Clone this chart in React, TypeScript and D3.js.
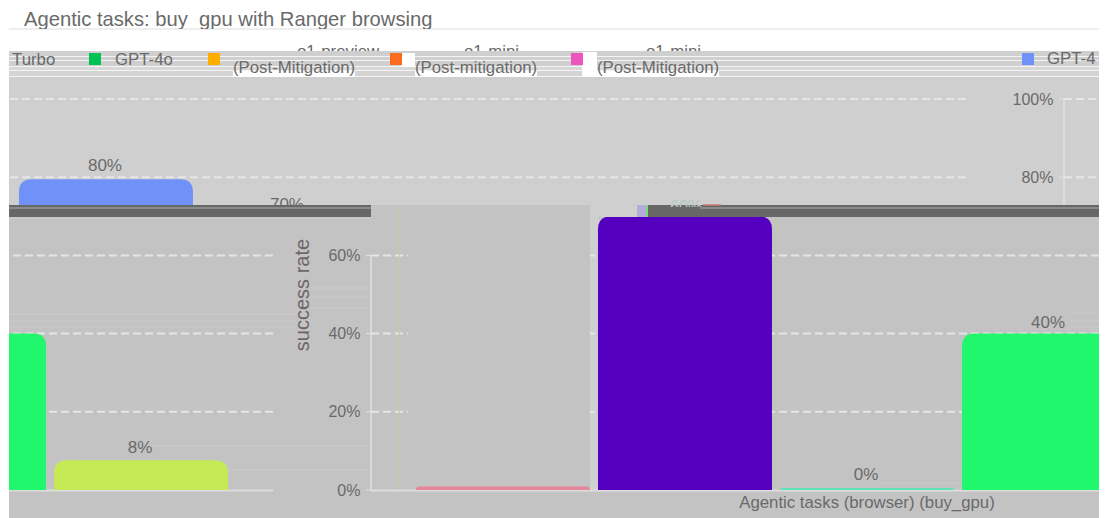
import React from "react";
import * as d3 from "d3";

// ---- data ----
const categories = ["GPT-4", "o1-preview", "o1-mini", "GPT-4o", "GPT-4-Turbo"];
const upperValues = [79.5, 70, 0.4, 40, 7.6];
const lowerValues = [0.9, 70, 0.5, 40, 7.6];
const upperLabels = ["80%", "70%", "0%", "40%", "8%"];
const lowerLabels = ["", "70%", "0%", "40%", "8%"];
const upperColors = ["#7091f8", "#5500c0", "#5fe3b4", "#20f76c", "#c5ea55"];
const lowerColors = ["#e8859c", "#5500c0", "#5fe3b4", "#20f76c", "#c5ea55"];
const yTicks = [0, 20, 40, 60, 80, 100];
const legendNames = ["Turbo", "GPT-4o", "(Post-Mitigation)", "(Post-mitigation)", "(Post-Mitigation)", "GPT-4"];
const legendColors = ["", "#00c254", "#ffae00", "#f96b1d", "#ee55bb", "#7091f8"];
const legendFragments = ["o1-preview", "o1-mini", "o1-mini"];

// ---- layout ----
const W = 1105, H = 518;
const L = 9, R = 1099, WRAP = R - L;
const PLOT = 992;
const FONT = "'Liberation Sans', Arial, sans-serif";
const TEXT = "#6a6a6a";

const x = d3.scaleBand<string>().domain(categories).range([0, PLOT]).paddingInner(0.044).paddingOuter(0.247);
const y = d3.scaleLinear().domain([0, 100]).range([490, 99]);

function barPath(cx: number, w: number, v: number) {
  const top = y(v), base = y(0);
  const r = Math.min(13, base - top, w / 2);
  const p = d3.path();
  p.moveTo(cx, base);
  p.lineTo(cx, top + r);
  p.quadraticCurveTo(cx, top, cx + r, top);
  p.lineTo(cx + w - r, top);
  p.quadraticCurveTo(cx + w, top, cx + w, top + r);
  p.lineTo(cx + w, base);
  p.closePath();
  return p.toString();
}

function Panel({ values, labels, colors, bg, maskFirst, axisTop }: any) {
  const bw = x.bandwidth();
  return (
    <g>
      {yTicks.filter((t) => t > 0).map((t) => (
        <line key={t} x1={0} x2={PLOT} y1={y(t)} y2={y(t)} stroke="#e6e6e6" strokeWidth={2} strokeDasharray="8 4" />
      ))}
      {maskFirst && (
        <rect x={x(categories[0])! - 8} y={205} width={bw + 8} height={y(0) - 205} fill={bg} />
      )}
      <line x1={0} x2={PLOT} y1={y(0) + 0.5} y2={y(0) + 0.5} stroke="#dedede" strokeWidth={2} />
      <line x1={0} x2={0} y1={y(axisTop)} y2={y(0)} stroke="#e2e2e2" strokeWidth={1.5} />
      {yTicks.map((t) => (
        <g key={t}>
          <line x1={-5} x2={0} y1={y(t)} y2={y(t)} stroke="#e2e2e2" />
          <text x={-10.5} y={y(t) + 5.5} textAnchor="end" fontSize={16} fill={TEXT} fontFamily={FONT}>{t}%</text>
        </g>
      ))}
      {categories.map((c, i) => (
        <g key={c}>
          <path d={barPath(x(c)!, bw, values[i])} fill={colors[i]} />
          {labels[i] && (
            <text x={x(c)! + bw / 2 - 1} y={y(Math.round(values[i])) - 6} textAnchor="middle" fontSize={17} fill={TEXT} fontFamily={FONT}>{labels[i]}</text>
          )}
        </g>
      ))}
      <text transform={`translate(-62,${295}) rotate(-90)`} textAnchor="middle" fontSize={20} fill="#6e6666" fontFamily={FONT}>success rate</text>
      <text x={PLOT / 2} y={508} textAnchor="middle" fontSize={16.8} fill={TEXT} fontFamily={FONT}>Agentic tasks (browser) (buy_gpu)</text>
    </g>
  );
}

function Wrapped({ axis, clip, ...rest }: any) {
  return (
    <g clipPath={`url(#${clip})`}>
      <g transform={`translate(${axis},0)`}><Panel {...rest} /></g>
      <g transform={`translate(${axis - WRAP},0)`}><Panel {...rest} /></g>
    </g>
  );
}

const legendSwatchX = [null, 89, 208, 390, 571, 1022];
const legendTextX = [12, 115, 233, 415, 597, 1047];
const legendTextY = [65, 65, 73, 73, 73, 64];
const fragmentX = [297, 464, 646];
const stripes = [
  { y: 51, h: 5, c: "#cfcfcf" }, { y: 56, h: 1, c: "#f4f4f4" }, { y: 57, h: 3, c: "#cfcfcf" },
  { y: 60, h: 1, c: "#f4f4f4" }, { y: 61, h: 5, c: "#cfcfcf" }, { y: 66, h: 1, c: "#f4f4f4" },
  { y: 67, h: 3, c: "#d8d8d8" }, { y: 70, h: 1, c: "#f4f4f4" }, { y: 71, h: 5, c: "#d4d4d4" },
  { y: 76, h: 1, c: "#f4f4f4" },
];
const whiteBlocks = [
  { x: 401, y: 53, w: 14, h: 14 }, { x: 582, y: 52, w: 15, h: 25 },
  { x: 233, y: 71, w: 122, h: 6 }, { x: 415, y: 71, w: 122, h: 6 }, { x: 597, y: 71, w: 122, h: 6 },
];
const faint = [
  { a: 310, b: 371, y: 288 }, { a: 310, b: 371, y: 297 }, { a: 310, b: 371, y: 308 },
  { a: 9, b: 295, y: 314 }, { a: 9, b: 295, y: 321 }, { a: 9, b: 295, y: 327 },
  { a: 1070, b: 1099, y: 313 }, { a: 1070, b: 1099, y: 321 }, { a: 1070, b: 1099, y: 327 },
  { a: 150, b: 371, y: 446 }, { a: 227, b: 371, y: 470 }, { a: 880, b: 960, y: 483 },
];

export default function App() {
  const x0 = 371;
  const slot0End = x0 + x(categories[0])! + x.bandwidth();
  const slot1 = x0 + x(categories[1])!;
  return (
    <svg width={W} height={H} viewBox={`0 0 ${W} ${H}`} style={{ position: "absolute", left: 0, top: 0, background: "#fff" }}>
      <defs>
        <clipPath id="upper"><rect x={L} y={77} width={WRAP} height={128} /></clipPath>
        <clipPath id="lower"><rect x={L} y={217} width={WRAP} height={301} /></clipPath>
        <clipPath id="title"><rect x={L} y={0} width={WRAP} height={29} /></clipPath>
        <clipPath id="frag"><rect x={L} y={43} width={WRAP} height={8} /></clipPath>
        <clipPath id="legend"><rect x={L} y={51} width={WRAP} height={26} /></clipPath>
        <clipPath id="ghost"><rect x={660} y={200} width={45} height={7} /></clipPath>
      </defs>

      <rect x={L} y={28} width={WRAP} height={2} fill="#eeeeee" />
      <g clipPath="url(#title)">
        <text x={24} y={26} fontSize={20.2} fill={TEXT} fontFamily={FONT}>Agentic tasks: buy_gpu with Ranger browsing</text>
      </g>

      <g clipPath="url(#frag)">
        {legendFragments.map((t, i) => (
          <text key={i} x={fragmentX[i]} y={57} fontSize={16.8} fill={TEXT} fontFamily={FONT}>{t}</text>
        ))}
      </g>

      {stripes.map((s, i) => <rect key={i} x={L} y={s.y} width={WRAP} height={s.h} fill={s.c} />)}
      {whiteBlocks.map((b, i) => <rect key={i} x={b.x} y={b.y} width={b.w} height={b.h} fill="#fff" />)}
      <g clipPath="url(#legend)">
        {legendNames.map((n, i) => (
          <g key={i}>
            {legendColors[i] && <rect x={legendSwatchX[i]!} y={53} width={12} height={12} fill={legendColors[i]} />}
            <text x={legendTextX[i]} y={legendTextY[i]} fontSize={16.8} fill={TEXT} fontFamily={FONT}>{n}</text>
          </g>
        ))}
      </g>

      <rect x={L} y={77} width={WRAP} height={128} fill="#cfcfcf" />
      <Wrapped axis={1064} clip="upper" values={upperValues} labels={upperLabels} colors={upperColors} bg="#cfcfcf" maskFirst={false} axisTop={100} />

      <rect x={L} y={205} width={WRAP} height={313} fill="#c3c3c3" />
      <rect x={slot0End} y={205} width={slot1 - slot0End + 1} height={y(0) - 205} fill="#cfcfcf" />
      <rect x={slot1} y={205} width={50} height={12} fill="#cfcfcf" />
      <rect x={637} y={205} width={10} height={12} fill="#b0aed8" />

      <Wrapped axis={x0} clip="lower" values={lowerValues} labels={lowerLabels} colors={lowerColors} bg="#c3c3c3" maskFirst={true} axisTop={60} />
      {faint.map((f, i) => <line key={i} x1={f.a} x2={f.b} y1={f.y} y2={f.y} stroke="#cbcbcb" />)}
      <line x1={399.5} x2={399.5} y1={205} y2={490} stroke="#c9c9a8" />
      <line x1={777.5} x2={777.5} y1={217} y2={490} stroke="#c9c9a8" />

      {/* dark seam */}
      <rect x={L} y={205} width={x0 - L} height={12} fill="#676767" />
      <rect x={L} y={207} width={x0 - L} height={2} fill="#8a8a8a" />
      <rect x={L} y={217} width={x0 - L} height={2} fill="#c9c9c9" />
      <rect x={648} y={205} width={R - 648} height={12} fill="#676767" />
      <rect x={700} y={207} width={R - 700} height={2} fill="#8a8a8a" />
      <rect x={646.5} y={205} width={1.5} height={12} fill="#6bea5c" />
      <rect x={703} y={204} width={18} height={1.5} fill="#d98a8a" />
      <g clipPath="url(#ghost)">
        <text x={670} y={212} fontSize={16} fill="#b5c8c0" fontFamily={FONT}>60%</text>
      </g>
    </svg>
  );
}
